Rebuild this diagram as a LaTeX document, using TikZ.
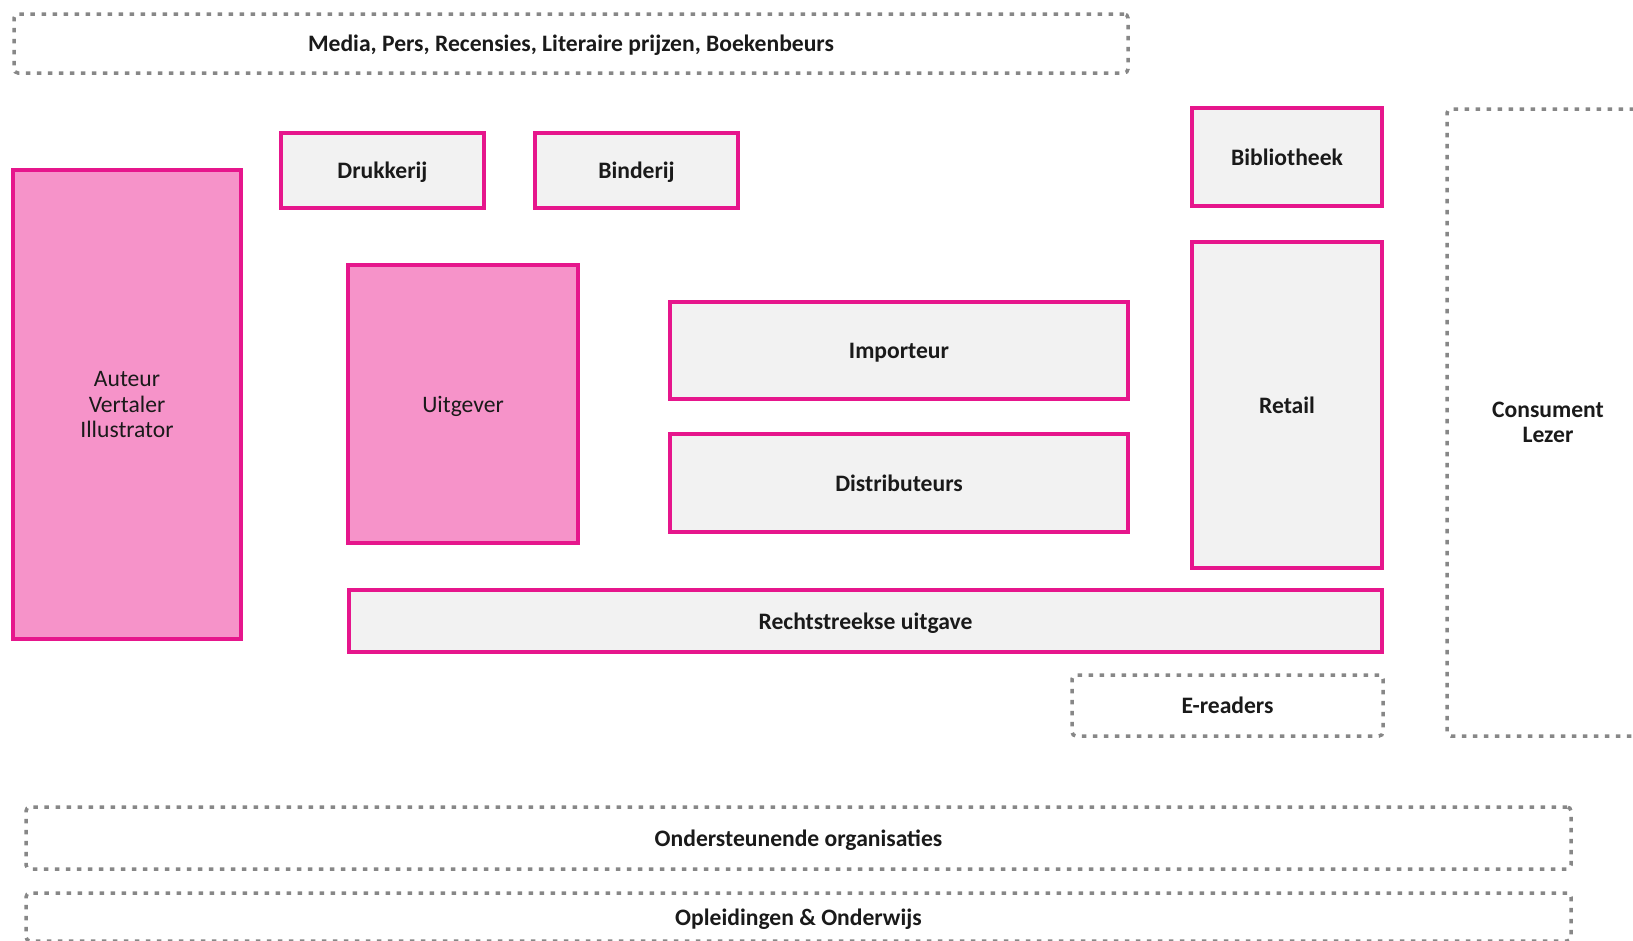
\documentclass[tikz,border=0pt]{standalone}
\usepackage{fontspec}
\setmainfont{Carlito}
\definecolor{magline}{HTML}{E6168C}
\definecolor{pinkfill}{HTML}{F693C9}
\definecolor{grayfill}{HTML}{F2F2F2}
\definecolor{dotgray}{HTML}{878787}
\definecolor{txt}{HTML}{1A1A1A}
\tikzset{
  base/.style={rectangle, inner sep=0pt, align=center, text=txt, text depth=0pt,
    font=\fontsize{23.6}{25.5}\selectfont},
  pinkbox/.style={base, draw=magline, line width=4pt, fill=pinkfill},
  graybox/.style={base, draw=magline, line width=4pt, fill=grayfill,
    font=\fontsize{23.6}{25.5}\selectfont\bfseries},
  dotbox/.style={base, draw=dotgray, line width=3.5pt, dash pattern=on 4.5pt off 6.5pt,
    rounded corners=4pt, font=\fontsize{23.6}{25.5}\selectfont\bfseries}
}
\begin{document}
\begin{tikzpicture}[x=1pt,y=-1pt]
\clip (0,0) rectangle (1633,940);
\fill[white] (0,0) rectangle (1633,940);

\node[dotbox, minimum width=1114pt, minimum height=59pt] (media) at (571,43.5)
  {Media, Pers, Recensies, Literaire prijzen, Boekenbeurs};

\node[pinkbox, minimum width=228pt, minimum height=469pt] (auteur) at (127,404.5)
  {Auteur\\Vertaler\\Illustrator};

\node[graybox, minimum width=203pt, minimum height=75pt] (druk) at (382.5,170.5) {Drukkerij};
\node[graybox, minimum width=203pt, minimum height=75pt] (binder) at (636.5,170.5) {Binderij};

\node[graybox, minimum width=190pt, minimum height=98pt] (biblio) at (1287,157) {Bibliotheek};
\node[graybox, minimum width=190pt, minimum height=326pt] (retail) at (1287,405) {Retail};

\node[dotbox, minimum width=202pt, minimum height=627pt] (consument) at (1548,422.5)
  {Consument\\Lezer};

\node[pinkbox, minimum width=230pt, minimum height=278pt] (uitgever) at (463,404) {Uitgever};

\node[graybox, minimum width=458pt, minimum height=97pt] (importeur) at (899,350.5) {Importeur};
\node[graybox, minimum width=458pt, minimum height=98pt] (distrib) at (899,483) {Distributeurs};

\node[graybox, minimum width=1033pt, minimum height=62pt] (recht) at (865.5,621) {Rechtstreekse uitgave};

\node[dotbox, minimum width=311pt, minimum height=61pt] (ereaders) at (1227.5,705.5) {E-readers};

\node[dotbox, minimum width=1545pt, minimum height=62pt] (onder) at (798.5,838) {Ondersteunende organisaties};
\node[dotbox, minimum width=1545pt, minimum height=48pt] (opleid) at (798.5,917) {Opleidingen \& Onderwijs};
\end{tikzpicture}
\end{document}
